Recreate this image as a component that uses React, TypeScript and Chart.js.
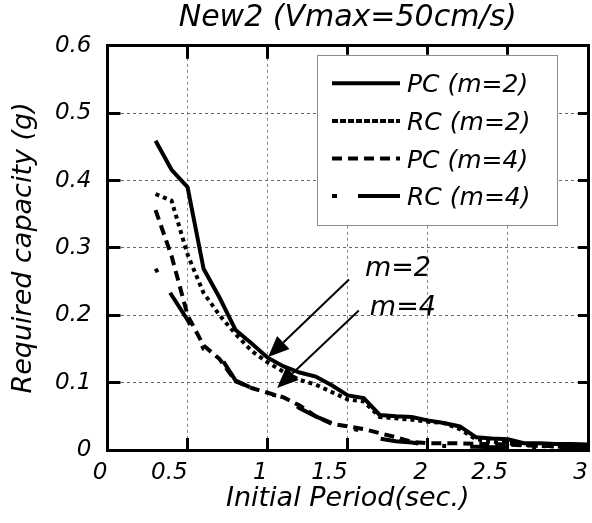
import React, { useEffect, useRef } from 'react';
import { Chart, registerables } from 'chart.js';

Chart.register(...registerables);

// ---- data ----
const periods = [0.3, 0.4, 0.5, 0.6, 0.7, 0.8, 0.9, 1.0, 1.1, 1.2, 1.3, 1.4, 1.5, 1.6, 1.7, 1.8, 1.9, 2.0, 2.1, 2.2, 2.3, 2.4, 2.5, 2.6, 2.7, 2.8, 2.9, 3.0];
const pcM2 = [0.459, 0.416, 0.390, 0.269, 0.226, 0.178, 0.158, 0.137, 0.124, 0.115, 0.109, 0.096, 0.081, 0.077, 0.052, 0.050, 0.049, 0.044, 0.040, 0.035, 0.019, 0.017, 0.016, 0.010, 0.010, 0.009, 0.009, 0.008];
const rcM2 = [0.380, 0.370, 0.290, 0.233, 0.200, 0.172, 0.147, 0.130, 0.116, 0.104, 0.097, 0.086, 0.075, 0.072, 0.049, 0.047, 0.045, 0.042, 0.040, 0.031, 0.016, 0.012, 0.010, 0.008, 0.006, 0.005, 0.005, 0.005];
const pcM4 = [0.356, 0.288, 0.200, 0.155, 0.135, 0.102, 0.092, 0.085, 0.078, 0.066, 0.050, 0.039, 0.035, 0.031, 0.025, 0.019, 0.012, 0.010, 0.010, 0.010, 0.009, 0.009, 0.008, 0.007, 0.006, 0.006, 0.005, 0.005];
const rcM4 = [0.269, 0.230, 0.193, 0.150, 0.140, 0.103, 0.092, 0.083, 0.079, 0.062, 0.050, 0.040, 0.034, 0.027, 0.017, 0.013, 0.011, 0.008, 0.006, 0.005, 0.005, 0.004, 0.004, 0.004, 0.004, 0.003, 0.003, 0.003];

const seriesLabels = ['PC (m=2)', 'RC (m=2)', 'PC (m=4)', 'RC (m=4)'];
const xTickLabels = ['0', '0.5', '1', '1.5', '2', '2.5', '3'];
const yTickLabels = ['0', '0.1', '0.2', '0.3', '0.4', '0.5', '0.6'];
const titleText = 'New2 (Vmax=50cm/s)';
const xTitleText = 'Initial Period(sec.)';
const yTitleText = 'Required capacity (g)';

// annotations (data coordinates)
const noteLabels = ['m=2', 'm=4'];
const noteX = [1.607, 1.638];
const noteY = [0.259, 0.200];
const arrowFromX = [1.508, 1.569];
const arrowFromY = [0.253, 0.207];
const arrowToX = [1.003, 1.059];
const arrowToY = [0.138, 0.092];

// ---- styles ----
const FAMILY = "'DejaVu Sans', sans-serif";
const seriesDash = [[], [4, 4], [10, 6], [4, 24, 38, 24]];
const legendDash = [[], [6, 2], [10, 6], [5, 21, 42, 100]];

const overlayPlugin = {
  id: 'overlay',
  afterDatasetsDraw(chart: any) {
    const { ctx, chartArea, scales } = chart;
    const xs = scales.x;
    const ys = scales.y;
    ctx.save();
    // arrows
    ctx.strokeStyle = '#000';
    ctx.fillStyle = '#000';
    ctx.lineWidth = 2;
    ctx.setLineDash([]);
    for (let i = 0; i < arrowFromX.length; i++) {
      const x1 = xs.getPixelForValue(arrowFromX[i]);
      const y1 = ys.getPixelForValue(arrowFromY[i]);
      const x2 = xs.getPixelForValue(arrowToX[i]);
      const y2 = ys.getPixelForValue(arrowToY[i]);
      const ang = Math.atan2(y2 - y1, x2 - x1);
      const headLen = 21;
      const headHalf = 9;
      const bx = x2 - headLen * Math.cos(ang);
      const by = y2 - headLen * Math.sin(ang);
      ctx.beginPath();
      ctx.moveTo(x1, y1);
      ctx.lineTo(bx, by);
      ctx.stroke();
      ctx.beginPath();
      ctx.moveTo(x2, y2);
      ctx.lineTo(bx + headHalf * Math.sin(ang), by - headHalf * Math.cos(ang));
      ctx.lineTo(bx - headHalf * Math.sin(ang), by + headHalf * Math.cos(ang));
      ctx.closePath();
      ctx.fill();
    }
    // annotation texts
    ctx.font = `italic 27px ${FAMILY}`;
    ctx.textAlign = 'left';
    ctx.textBaseline = 'alphabetic';
    for (let i = 0; i < noteLabels.length; i++) {
      ctx.fillText(noteLabels[i], xs.getPixelForValue(noteX[i]), ys.getPixelForValue(noteY[i]));
    }
    // legend box
    const bx = chartArea.right - 271;
    const by = chartArea.top + 9;
    const bw = 240;
    const bh = 170;
    ctx.fillStyle = '#fff';
    ctx.fillRect(bx, by, bw, bh);
    ctx.strokeStyle = '#8c8c8c';
    ctx.lineWidth = 1;
    ctx.strokeRect(Math.round(bx) + 0.5, Math.round(by) + 0.5, bw, bh);
    for (let i = 0; i < seriesLabels.length; i++) {
      const yy = by + 28.5 + i * 37.6;
      ctx.strokeStyle = '#000';
      ctx.lineWidth = 4;
      ctx.lineCap = 'butt';
      ctx.setLineDash(legendDash[i]);
      ctx.beginPath();
      ctx.moveTo(bx + 15, yy);
      ctx.lineTo(bx + 83, yy);
      ctx.stroke();
      ctx.setLineDash([]);
      ctx.fillStyle = '#000';
      ctx.font = `italic 25px ${FAMILY}`;
      ctx.fillText(seriesLabels[i], bx + 90, yy + 9);
    }
    ctx.restore();
  },
};

export default function App() {
  const canvasRef = useRef<HTMLCanvasElement | null>(null);

  useEffect(() => {
    if (!canvasRef.current) return;
    const series = [pcM2, rcM2, pcM4, rcM4];
    const tickFont = { family: FAMILY, size: 23, style: 'italic' as const, weight: 'normal' as const };
    const titleFont = { family: FAMILY, size: 27, style: 'italic' as const, weight: 'normal' as const, lineHeight: 1.2 };
    const chart = new Chart(canvasRef.current, {
      type: 'line',
      data: {
        datasets: series.map((vals, i) => ({
          label: seriesLabels[i],
          data: periods.map((p, j) => ({ x: p, y: vals[j] })),
          xAxisID: 'x',
          yAxisID: 'y',
          borderColor: '#000',
          backgroundColor: '#000',
          borderWidth: 4,
          borderDash: seriesDash[i],
          borderCapStyle: 'butt',
          borderJoinStyle: 'miter',
          pointRadius: 0,
          pointHoverRadius: 0,
          tension: 0,
          fill: false,
        })),
      },
      options: {
        responsive: true,
        maintainAspectRatio: false,
        animation: false,
        events: [],
        layout: { padding: { left: 0, right: 4, top: 0, bottom: 0 } },
        plugins: {
          legend: { display: false },
          tooltip: { enabled: false },
          title: {
            display: true,
            text: titleText,
            fullSize: false,
            color: '#000',
            font: { family: FAMILY, size: 30, style: 'italic', weight: 'normal', lineHeight: 1.2 },
            padding: { top: 0, bottom: 9.8 },
          },
        },
        scales: {
          x: {
            type: 'linear',
            position: 'bottom',
            min: 0,
            max: 3,
            ticks: {
              stepSize: 0.5,
              align: 'end',
              maxRotation: 0,
              autoSkip: false,
              padding: 21,
              color: '#000',
              font: tickFont,
              callback: (v: any) => xTickLabels[Math.round(Number(v) / 0.5)] ?? '',
            },
            grid: { color: '#8a8a8a', lineWidth: 1, tickLength: -12, tickWidth: 3, tickColor: '#000', tickBorderDash: [] },
            border: { display: true, color: '#000', width: 3, dash: [3, 3] },
            title: { display: true, text: xTitleText, color: '#000', font: titleFont, padding: { top: 0, bottom: 8 } },
            afterFit: (s: any) => { s.height = 73; s.paddingRight = 0; },
          },
          y: {
            type: 'linear',
            position: 'left',
            min: 0,
            max: 0.6,
            ticks: {
              stepSize: 0.1,
              padding: 29,
              color: '#000',
              font: tickFont,
              callback: (v: any) => yTickLabels[Math.round(Number(v) / 0.1)] ?? '',
            },
            grid: { color: '#666', lineWidth: 1, tickLength: -13, tickWidth: 3, tickColor: '#000', tickBorderDash: [] },
            border: { display: true, color: '#000', width: 3, dash: [3, 3] },
            title: { display: true, text: yTitleText, color: '#000', font: titleFont, padding: { top: 8, bottom: 0 } },
            afterFit: (s: any) => { s.width = 107.5; },
          },
          x2: {
            type: 'linear',
            position: 'top',
            min: 0,
            max: 3,
            ticks: { display: false, stepSize: 0.5 },
            grid: { drawOnChartArea: false, tickLength: -13, tickWidth: 3, tickColor: '#000', tickBorderDash: [] },
            border: { display: true, color: '#000', width: 3 },
            afterFit: (s: any) => { s.height = 0; s.paddingLeft = 0; s.paddingRight = 0; },
          },
          y2: {
            type: 'linear',
            position: 'right',
            min: 0,
            max: 0.6,
            ticks: { display: false, stepSize: 0.1 },
            grid: { drawOnChartArea: false, tickLength: -10, tickWidth: 3, tickColor: '#000', tickBorderDash: [] },
            border: { display: true, color: '#000', width: 3 },
            afterFit: (s: any) => { s.width = 0; },
          },
        },
      } as any,
      plugins: [overlayPlugin],
    });
    return () => chart.destroy();
  }, []);

  return (
    <div style={{ position: 'absolute', left: 0, top: 0, width: 592, height: 523, background: '#fff' }}>
      <canvas ref={canvasRef} />
    </div>
  );
}
